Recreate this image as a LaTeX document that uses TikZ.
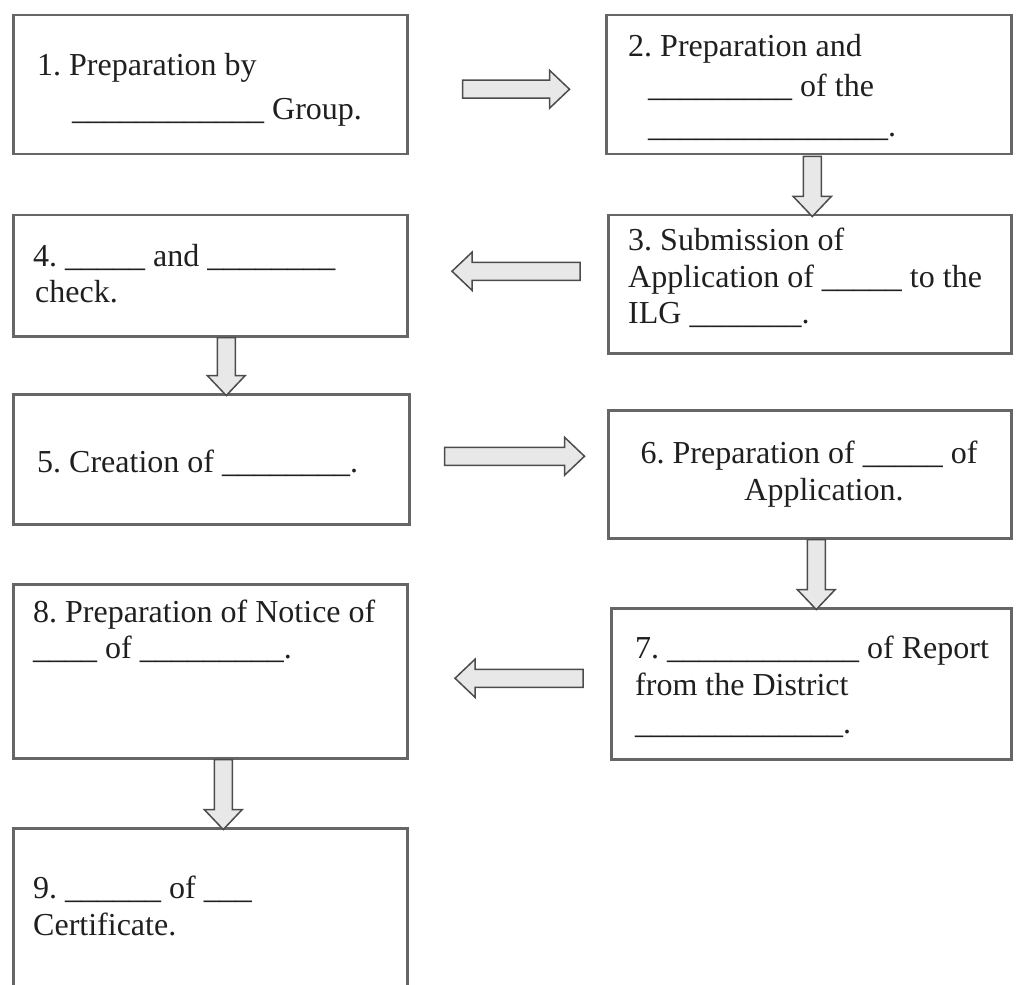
\documentclass[tikz,border=0pt]{standalone}
\usepackage{fontspec}
\setmainfont{Liberation Serif}
\usetikzlibrary{calc}
\frenchspacing
\newcommand\blank[1]{\foreach\n in {1,...,#1}{\_}}
\tikzset{
  box/.style={draw=black!60, line width=2.5pt, rectangle, anchor=north west, inner sep=0pt},
  txt/.style={anchor=base west, inner sep=0pt, text=black!88, font=\fontsize{32pt}{37pt}\selectfont\frenchspacing},
  ctxt/.style={txt, anchor=base},
  pics/blockarrow/.style={code={
    \draw[draw=black!70, line width=1.5pt, fill=gray!18, line join=miter]
      (0,9) -- (#1-20,9) -- (#1-20,19) -- (#1,0) -- (#1-20,-19) -- (#1-20,-9) -- (0,-9) -- cycle;}}
}
\begin{document}
\begin{tikzpicture}[x=1pt,y=1pt]
\useasboundingbox (0,0) rectangle (1016,-984);
% boxes
\node[box, minimum width=394pt, minimum height=139pt] (b1) at (12,-14) {};
\node[box, minimum width=405pt, minimum height=139pt] (b2) at (605,-14) {};
\node[box, minimum width=403pt, minimum height=138pt] (b3) at (607,-214) {};
\node[box, minimum width=394pt, minimum height=121pt] (b4) at (12,-214) {};
\node[box, minimum width=396pt, minimum height=130pt] (b5) at (12,-393) {};
\node[box, minimum width=403pt, minimum height=128pt] (b6) at (607,-409) {};
\node[box, minimum width=400pt, minimum height=151pt] (b7) at (610,-607) {};
\node[box, minimum width=394pt, minimum height=174pt] (b8) at (12,-583) {};
\node[box, minimum width=394pt, minimum height=165pt] (b9) at (12,-827) {};
% texts
\node[txt] (t1a) at (37,-76) {1. Preparation by};
\node[txt] (t1b) at (72,-120) {\blank{12} Group.};
\node[txt] (t2a) at (628,-57) {2. Preparation and};
\node[txt] (t2b) at (648,-97) {\blank{9} of the};
\node[txt] (t2c) at (648,-137) {\blank{15}.};
\node[txt] (t3a) at (628,-250) {3. Submission of};
\node[txt] (t3b) at (628,-287) {Application of \blank{5} to the};
\node[txt] (t3c) at (628,-323) {ILG \blank{7}.};
\node[txt] (t4a) at (33,-266) {4. \blank{5} and \blank{8}};
\node[txt] (t4b) at (35,-302) {check.};
\node[txt] (t5a) at (37,-472) {5. Creation of \blank{8}.};
\node[ctxt] (t6a) at (809,-463) {6. Preparation of \blank{5} of};
\node[ctxt] (t6b) at (824,-500) {Application.};
\node[txt] (t7a) at (635,-658) {7. \blank{12} of Report};
\node[txt] (t7b) at (635,-695) {from the District};
\node[txt] (t7c) at (635,-733) {\blank{13}.};
\node[txt] (t8a) at (33,-622) {8. Preparation of Notice of};
\node[txt] (t8b) at (33,-658) {\blank{4} of \blank{9}.};
\node[txt] (t9a) at (33,-898) {9. \blank{6} of \blank{3}};
\node[txt] (t9b) at (33,-935) {Certificate.};
% block arrows
\path (b1.east) ++(54,-4.5) pic {blockarrow=107};
\path (b2.south) ++(3.5,-1) pic[rotate=-90] {blockarrow=60};
\path (b3.west) ++(-27,13) pic[rotate=180] {blockarrow=128};
\path (b4.south) ++(16,0) pic[rotate=-90] {blockarrow=58};
\path (b5.east) ++(34,3) pic {blockarrow=140};
\path (b6.south) ++(6.5,0) pic[rotate=-90] {blockarrow=70};
\path (b7.west) ++(-27,5.5) pic[rotate=180] {blockarrow=128};
\path (b8.south) ++(13,0) pic[rotate=-90] {blockarrow=70};
\end{tikzpicture}
\end{document}
